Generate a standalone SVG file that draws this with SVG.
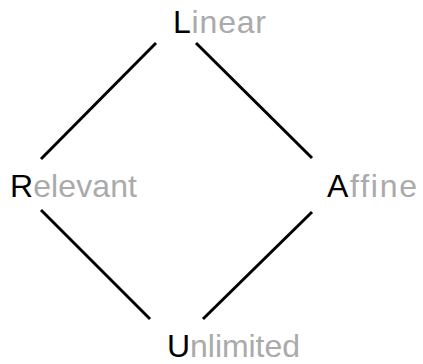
<svg xmlns="http://www.w3.org/2000/svg" width="423" height="364" viewBox="0 0 423 364">
<style>
.lbl{font-family:"Liberation Sans","DejaVu Sans",sans-serif;font-size:32px;fill:#aaaaaa}
.ini{fill:#000000}
.edge{stroke:#000000;stroke-width:3;stroke-linecap:butt;fill:none}
</style>
<rect width="423" height="364" fill="#ffffff"/>
<g id="connectors">
<line class="edge" x1="156" y1="43" x2="41" y2="159"/>
<line class="edge" x1="196" y1="43" x2="312" y2="158"/>
<line class="edge" x1="41" y1="210" x2="150" y2="319"/>
<line class="edge" x1="312" y1="212" x2="203" y2="319"/>
</g>
<g id="linear">
<text class="lbl" x="173" y="33" textLength="93" lengthAdjust="spacing"><tspan class="ini">L</tspan>inear</text>
</g>
<g id="relevant">
<text class="lbl" x="10" y="197" textLength="127" lengthAdjust="spacing"><tspan class="ini">R</tspan>elevant</text>
</g>
<g id="affine">
<text class="lbl" x="327" y="197" textLength="90" lengthAdjust="spacing"><tspan class="ini">A</tspan>ffine</text>
</g>
<g id="unlimited">
<text class="lbl" x="167" y="357" textLength="133" lengthAdjust="spacing"><tspan class="ini">U</tspan>nlimited</text>
</g>
</svg>
